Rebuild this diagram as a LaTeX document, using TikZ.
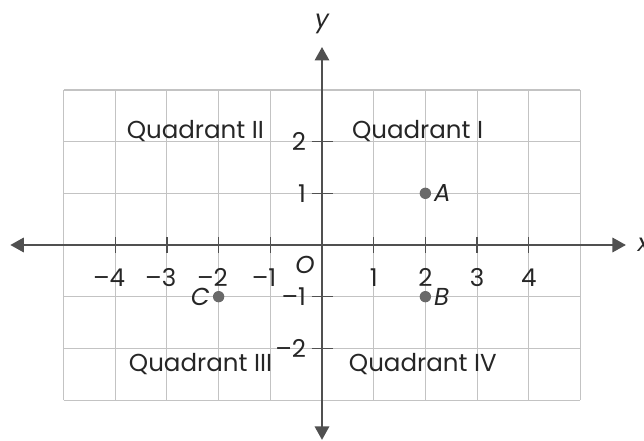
\documentclass[tikz,border=0pt]{standalone}
\usepackage{fontspec}
\setmainfont{Poppins}
\usetikzlibrary{arrows.meta}
\definecolor{gridgray}{RGB}{195,195,195}
\definecolor{axisgray}{RGB}{80,80,80}
\definecolor{dotgray}{RGB}{105,105,105}

\begin{document}
\begin{tikzpicture}[>={Triangle[length=2.6mm, width=2.8mm]}, line width=0.7pt,
    font=\fontsize{13.5}{15}\selectfont, text=black!85,
    lbl/.style={font=\fontsize{13.5}{15}\selectfont\itshape},
    dot/.style={circle, fill=dotgray, inner sep=0pt, minimum size=2.2mm}]
  \useasboundingbox (-6.23,-3.79) rectangle (6.23,4.74);
  \draw[gridgray, line width=0.6pt] (-5,-3) grid (5,3);
  % axes
  \coordinate (xl) at (-6.03,0);
  \coordinate (xr) at (5.88,0);
  \coordinate (yb) at (0,-3.77);
  \coordinate (yt) at (0,3.83);
  \draw[axisgray, <->, line width=1pt] (xl) -- (xr);
  \draw[axisgray, <->, line width=1pt] (yb) -- (yt);
  \node[anchor=west, lbl] (xlab) at (5.98,0) {x};
  \node[lbl] (ylab) at (0,4.27) {y};
  \node[lbl] (orig) at (-0.33,-0.38) {O};
  % ticks
  \foreach \x in {-4,...,-1,1,2,3,4}
    \draw[axisgray] (\x,-0.15) -- (\x,0.15);
  \foreach \y in {-2,-1,1,2}
    \draw[axisgray] (-0.2,\y) -- (0.22,\y);
  \foreach \x in {-4,...,-1}
    \node (xt\x) at (\x-0.12,-0.63) {–\the\numexpr-\x\relax};
  \foreach \x in {1,...,4}
    \node (xt\x) at (\x,-0.63) {\x};
  \foreach \y in {1,2}
    \node[anchor=east] (yt\y) at (-0.18,\y) {\y};
  \foreach \y in {-1,-2}
    \node[anchor=east] (yt\y) at (-0.18,\y) {–\the\numexpr-\y\relax};
  % points
  \node[dot] (A) at (2,1) {};
  \node[dot] (B) at (2,-1) {};
  \node[dot] (C) at (-2,-1) {};
  \node[right=0mm, lbl, inner sep=1pt] at (A.east) {A};
  \node[right=0mm, lbl, inner sep=1pt] at (B.east) {B};
  \node[left=0mm, lbl, inner sep=1pt] at (C.west) {C};
  % quadrants
  \node (q2) at (-2.45,2.2) {Quadrant II};
  \node (q1) at (1.85,2.2) {Quadrant I};
  \node (q3) at (-2.35,-2.3) {Quadrant III};
  \node (q4) at (1.95,-2.3) {Quadrant IV};
\end{tikzpicture}
\end{document}
